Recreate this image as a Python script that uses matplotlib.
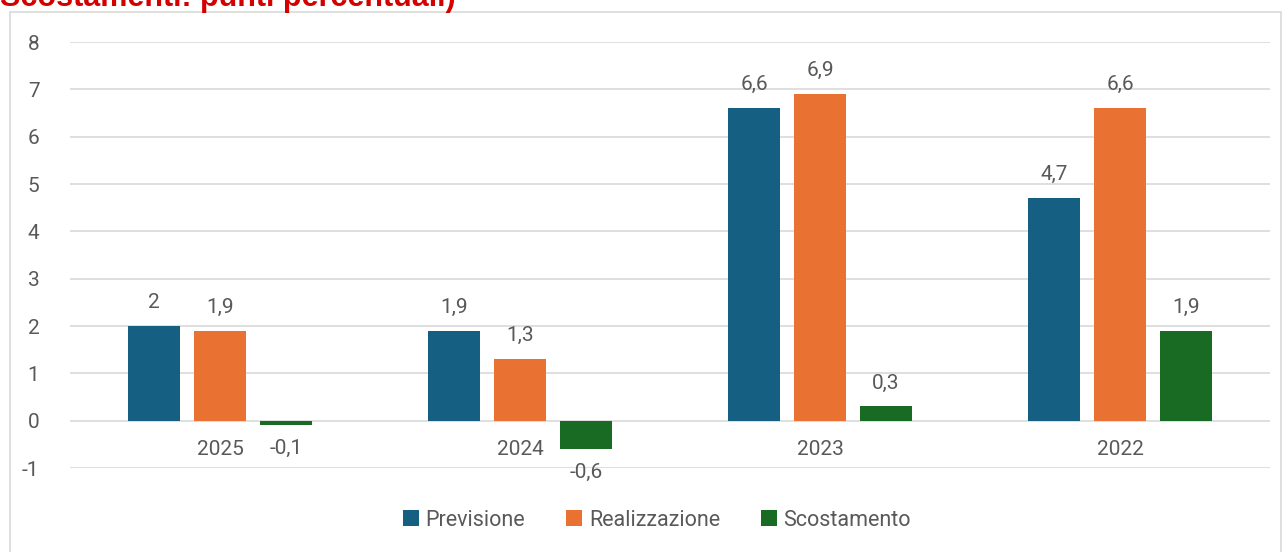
import numpy as np
import matplotlib
matplotlib.use('Agg')
import matplotlib.pyplot as plt
from matplotlib.patches import Rectangle

plt.rcParams['font.family'] = ['Roboto', 'DejaVu Sans']

anni = ['2025', '2024', '2023', '2022']
previsione = [2, 1.9, 6.6, 4.7]
realizzazione = [1.9, 1.3, 6.9, 6.6]
scostamento = [-0.1, -0.6, 0.3, 1.9]
serie = ['Previsione', 'Realizzazione', 'Scostamento']
colori = ['#155f83', '#e97132', '#196b24']
testo = '#595959'

def fmt(v):
    return ('%g' % v).replace('.', ',')

fig = plt.figure(figsize=(12.84, 5.52), dpi=100)
ax = fig.add_axes([70/1284, 1-468/552, 1200/1284, 426/552])

# cornice esterna
fig.patches.append(Rectangle((10/1284, -0.05), 1271/1284, 1.05-12/552,
                             transform=fig.transFigure, fill=False,
                             edgecolor='#d9d9d9', lw=1.2))
# titolo tagliato in alto come nell'originale
fig.text(0, 1-6/552, 'Scostamenti: punti percentuali)', color='#d40000',
         fontsize=22, fontweight='bold', va='baseline', ha='left',
         family=['Liberation Sans', 'DejaVu Sans'])

x = np.arange(len(anni))
w = 52/300
off = 66/300
for i, (vals, col) in enumerate(zip([previsione, realizzazione, scostamento], colori)):
    pos = x + (i-1)*off
    ax.bar(pos, vals, width=w, color=col, label=serie[i], zorder=3)
    for p, v in zip(pos, vals):
        if v >= 0:
            ax.annotate(fmt(v), (p, v), xytext=(0, 10), textcoords='offset points',
                        ha='center', va='bottom', fontsize=15, color=testo)
        else:
            ax.annotate(fmt(v), (p, v), xytext=(0, -10), textcoords='offset points',
                        ha='center', va='top', fontsize=15, color=testo)

ax.set_xlim(-0.5, 3.5)
ax.set_ylim(-1, 8)
ax.set_yticks(range(-1, 9))
ax.set_yticklabels([str(t) for t in range(-1, 9)])
ax.grid(axis='y', color='#d9d9d9', lw=1.2, zorder=0)
ax.set_xticks([])
for s in ax.spines.values():
    s.set_visible(False)
ax.tick_params(axis='y', length=0, pad=22, labelsize=15, labelcolor=testo)

# etichette categorie vicino allo zero
for xi, a in zip(x, anni):
    ax.annotate(a, (xi, 0), xytext=(0, -14), textcoords='offset points',
                ha='center', va='top', fontsize=15, color=testo)

leg = fig.legend(loc='center', bbox_to_anchor=(657/1284, 1-520/552), ncol=3,
                 frameon=False, fontsize=15.5, handlelength=0.75, handleheight=0.75,
                 handletextpad=0.3, columnspacing=1.9, labelcolor=testo)

fig.savefig('out.png', dpi=100)
